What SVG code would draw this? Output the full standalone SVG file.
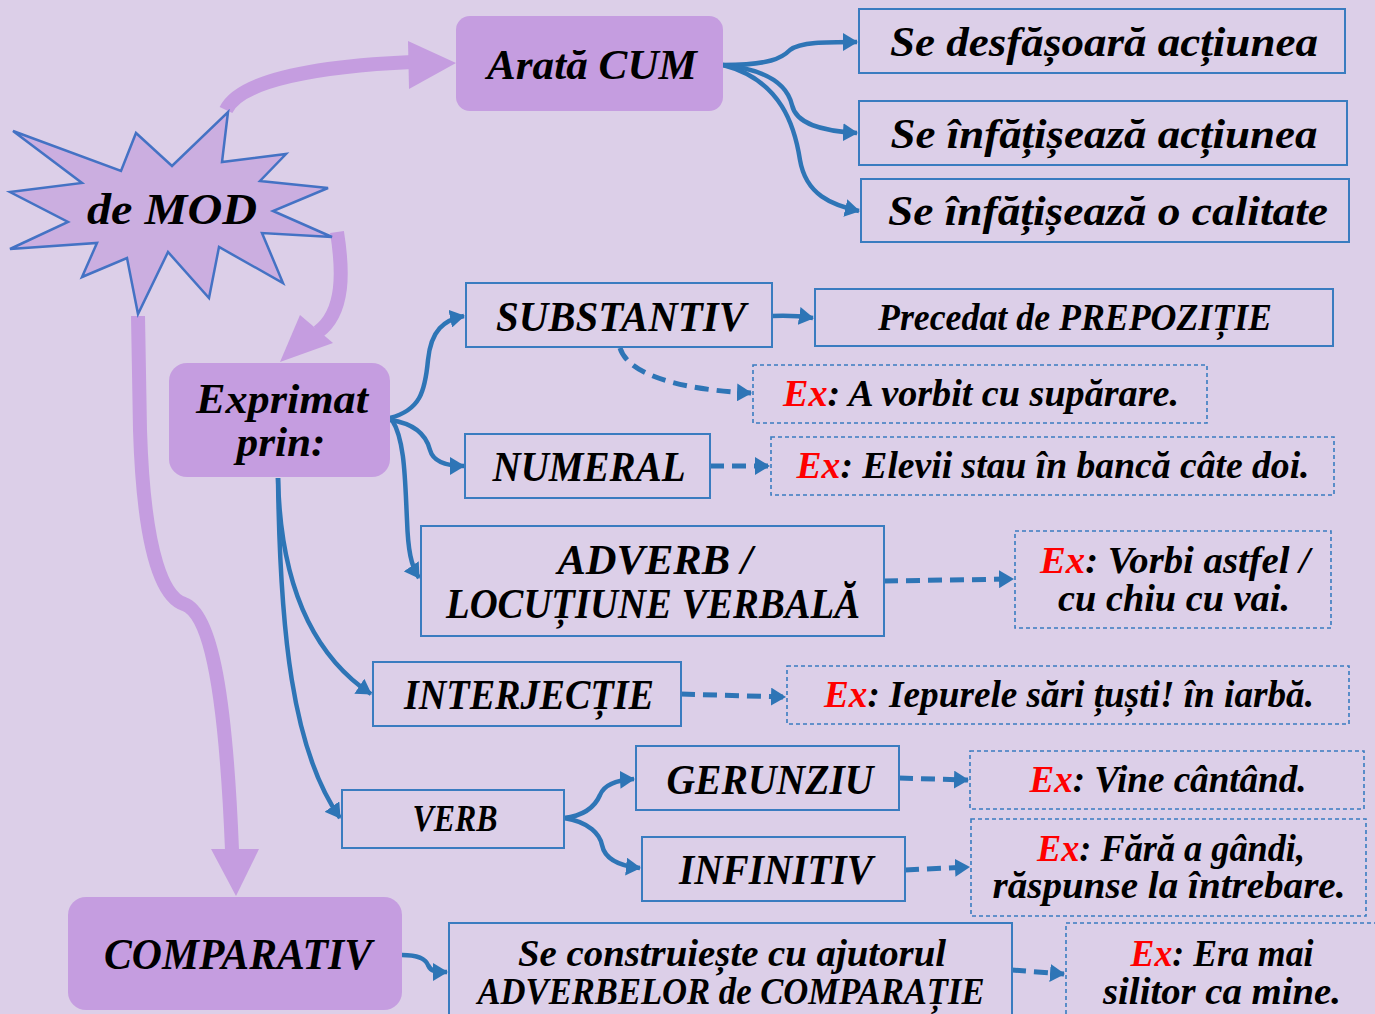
<svg xmlns="http://www.w3.org/2000/svg" width="1375" height="1014" viewBox="0 0 1375 1014">
<defs>
<style>
text{font-family:"Liberation Serif","Times New Roman",serif;font-style:italic;font-weight:bold;fill:#000;text-anchor:middle}
.box{fill:none;stroke:#3A7CC0;stroke-width:2}
.dbox{fill:none;stroke:#3A7CC0;stroke-width:1.6;stroke-dasharray:4 3}
.pbox{fill:#C59DE0}
.pc{fill:none;stroke:#C59DE0;stroke-width:14}
.bc{fill:none;stroke:#2E75B6;stroke-width:4.5}
.dc{fill:none;stroke:#2E75B6;stroke-width:5;stroke-dasharray:14 8}
.ex{fill:#FF0000}
</style>
<marker id="ah" markerUnits="userSpaceOnUse" markerWidth="16" markerHeight="18" refX="14" refY="9" orient="auto">
<path d="M0,0 L15,9 L0,18 Z" fill="#2E75B6"/>
</marker>
</defs>
<rect width="1375" height="1014" fill="#DCCFE8"/>

<g id="connectors">
<!-- purple thick -->
<path class="pc" d="M226,110 C240,80 320,66 412,62"/>
<polygon fill="#C59DE0" points="408,41 456,63 409,89"/>
<path class="pc" d="M337,232 C343,270 345,312 318,332"/>
<polygon fill="#C59DE0" points="300,315 333,343 280,362"/>
<path class="pc" d="M138,316 L140,430 C144,560 165,598 184,604 C212,614 226,700 232,850"/>
<polygon fill="#C59DE0" points="211,849 259,849 236,896"/>
<!-- blue solid -->
<path class="bc" marker-end="url(#ah)" d="M723,65 C770,65 782,58 790,50 C800,42 825,42 857,42"/>
<path class="bc" marker-end="url(#ah)" d="M723,65 C772,70 788,88 792,105 C796,124 822,131 857,133"/>
<path class="bc" marker-end="url(#ah)" d="M723,65 C782,80 795,128 800,160 C806,195 832,205 859,211"/>
<path class="bc" marker-end="url(#ah)" d="M390,418 C420,410 425,392 428,360 C431,330 444,320 464,316"/>
<path class="bc" marker-end="url(#ah)" d="M390,420 C418,424 427,438 430,450 C433,461 446,466 464,466"/>
<path class="bc" marker-end="url(#ah)" d="M392,420 C405,440 405,480 407,520 C408,550 411,566 419,578"/>
<path class="bc" marker-end="url(#ah)" d="M278,478 C280,570 305,650 371,694"/>
<path class="bc" marker-end="url(#ah)" d="M278,478 C280,630 292,750 340,818"/>
<path class="bc" marker-end="url(#ah)" d="M772,316 C790,315 800,316 813,318"/>
<path class="bc" marker-end="url(#ah)" d="M564,818 C590,815 597,802 600,795 C604,785 616,780 634,779"/>
<path class="bc" marker-end="url(#ah)" d="M564,818 C590,822 600,835 602,845 C605,860 620,866 640,868"/>
<path class="bc" marker-end="url(#ah)" d="M402,955 C420,955 426,960 428,965 C431,972 436,972 447,972"/>
<!-- blue dashed -->
<path class="dc" marker-end="url(#ah)" d="M620,348 C630,380 700,391 751,393"/>
<path class="dc" marker-end="url(#ah)" d="M710,466 L769,466"/>
<path class="dc" marker-end="url(#ah)" d="M884,581 L1013,579"/>
<path class="dc" marker-end="url(#ah)" d="M681,694 L785,697"/>
<path class="dc" marker-end="url(#ah)" d="M899,778 L968,780"/>
<path class="dc" marker-end="url(#ah)" d="M905,870 L969,867"/>
<path class="dc" marker-end="url(#ah)" d="M1012,970 L1064,974"/>
</g>

<g id="de-mod">
<polygon fill="#CBAEE0" stroke="#4472C4" stroke-width="2.5" stroke-linejoin="miter" points="13,131 121,171 136,133 172,166 228,112 222,162 286,154 260,181 328,188 273,211 332,237 262,233 283,283 219,247 209,298 168,252 138,314 127,258 82,277 97,243 10,249 68,222 10,192 82,183"/>
<text x="172" y="224" font-size="45" textLength="170" lengthAdjust="spacingAndGlyphs">de MOD</text>
</g>

<g id="arata-cum">
<rect class="pbox" x="456" y="16" width="267" height="95" rx="14"/>
<text x="592" y="79" font-size="43" textLength="210" lengthAdjust="spacingAndGlyphs">Arată CUM</text>
</g>
<g id="b-desfasoara">
<rect class="box" x="859" y="9" width="486" height="64"/>
<text x="1104" y="56" font-size="42" textLength="428" lengthAdjust="spacingAndGlyphs">Se desfășoară acțiunea</text>
</g>
<g id="b-infatiseaza-actiunea">
<rect class="box" x="859" y="101" width="488" height="64"/>
<text x="1104" y="148" font-size="42" textLength="427" lengthAdjust="spacingAndGlyphs">Se înfățișează acțiunea</text>
</g>
<g id="b-infatiseaza-calitate">
<rect class="box" x="861" y="179" width="488" height="63"/>
<text x="1108" y="225" font-size="42" textLength="440" lengthAdjust="spacingAndGlyphs">Se înfățișează o calitate</text>
</g>

<g id="exprimat">
<rect class="pbox" x="169" y="363" width="221" height="114" rx="18"/>
<text x="282" y="413" font-size="42" textLength="172" lengthAdjust="spacingAndGlyphs">Exprimat</text>
<text x="281" y="456" font-size="42" textLength="89" lengthAdjust="spacingAndGlyphs">prin:</text>
</g>

<g id="substantiv">
<rect class="box" x="466" y="283" width="306" height="64"/>
<text x="621" y="331" font-size="42" textLength="250" lengthAdjust="spacingAndGlyphs">SUBSTANTIV</text>
</g>
<g id="precedat">
<rect class="box" x="815" y="289" width="518" height="57"/>
<text x="1075" y="330" font-size="37" textLength="394" lengthAdjust="spacingAndGlyphs">Precedat de PREPOZIȚIE</text>
</g>
<g id="ex-substantiv">
<rect class="dbox" x="753" y="365" width="454" height="58"/>
<text x="981" y="406" font-size="37" textLength="396" lengthAdjust="spacingAndGlyphs"><tspan class="ex">Ex</tspan>: A vorbit cu supărare.</text>
</g>

<g id="numeral">
<rect class="box" x="465" y="434" width="245" height="64"/>
<text x="589" y="481" font-size="42" textLength="193" lengthAdjust="spacingAndGlyphs">NUMERAL</text>
</g>
<g id="ex-numeral">
<rect class="dbox" x="771" y="437" width="563" height="58"/>
<text x="1053" y="478" font-size="37" textLength="513" lengthAdjust="spacingAndGlyphs"><tspan class="ex">Ex</tspan>: Elevii stau în bancă câte doi.</text>
</g>

<g id="adverb">
<rect class="box" x="421" y="526" width="463" height="110"/>
<text x="655" y="574" font-size="42" textLength="195" lengthAdjust="spacingAndGlyphs">ADVERB /</text>
<text x="653" y="618" font-size="42" textLength="414" lengthAdjust="spacingAndGlyphs">LOCUȚIUNE VERBALĂ</text>
</g>
<g id="ex-adverb">
<rect class="dbox" x="1015" y="531" width="316" height="97"/>
<text x="1175" y="573" font-size="37" textLength="270" lengthAdjust="spacingAndGlyphs"><tspan class="ex">Ex</tspan>: Vorbi astfel /</text>
<text x="1174" y="611" font-size="37" textLength="232" lengthAdjust="spacingAndGlyphs">cu chiu cu vai.</text>
</g>

<g id="interjectie">
<rect class="box" x="373" y="662" width="308" height="64"/>
<text x="529" y="709" font-size="42" textLength="250" lengthAdjust="spacingAndGlyphs">INTERJECȚIE</text>
</g>
<g id="ex-interjectie">
<rect class="dbox" x="787" y="666" width="562" height="58"/>
<text x="1069" y="707" font-size="37" textLength="490" lengthAdjust="spacingAndGlyphs"><tspan class="ex">Ex</tspan>: Iepurele sări țuști! în iarbă.</text>
</g>

<g id="verb">
<rect class="box" x="342" y="790" width="222" height="58"/>
<text x="455" y="831" font-size="37" textLength="85" lengthAdjust="spacingAndGlyphs">VERB</text>
</g>
<g id="gerunziu">
<rect class="box" x="636" y="746" width="263" height="64"/>
<text x="770" y="794" font-size="42" textLength="207" lengthAdjust="spacingAndGlyphs">GERUNZIU</text>
</g>
<g id="ex-gerunziu">
<rect class="dbox" x="970" y="751" width="394" height="58"/>
<text x="1168" y="792" font-size="37" textLength="277" lengthAdjust="spacingAndGlyphs"><tspan class="ex">Ex</tspan>: Vine cântând.</text>
</g>
<g id="infinitiv">
<rect class="box" x="642" y="837" width="263" height="64"/>
<text x="776" y="884" font-size="42" textLength="194" lengthAdjust="spacingAndGlyphs">INFINITIV</text>
</g>
<g id="ex-infinitiv">
<rect class="dbox" x="971" y="819" width="395" height="97"/>
<text x="1171" y="861" font-size="37" textLength="268" lengthAdjust="spacingAndGlyphs"><tspan class="ex">Ex</tspan>: Fără a gândi,</text>
<text x="1169" y="898" font-size="37" textLength="353" lengthAdjust="spacingAndGlyphs">răspunse la întrebare.</text>
</g>

<g id="comparativ">
<rect class="pbox" x="68" y="897" width="334" height="113" rx="18"/>
<text x="238" y="969" font-size="44" textLength="268" lengthAdjust="spacingAndGlyphs">COMPARATIV</text>
</g>
<g id="se-construieste">
<rect class="box" x="449" y="923" width="563" height="100"/>
<text x="732" y="966" font-size="38" textLength="428" lengthAdjust="spacingAndGlyphs">Se construiește cu ajutorul</text>
<text x="731" y="1004" font-size="38" textLength="507" lengthAdjust="spacingAndGlyphs">ADVERBELOR de COMPARAȚIE</text>
</g>
<g id="ex-comparativ">
<rect class="dbox" x="1066" y="923" width="320" height="100"/>
<text x="1222" y="966" font-size="38" textLength="183" lengthAdjust="spacingAndGlyphs"><tspan class="ex">Ex</tspan>: Era mai</text>
<text x="1222" y="1004" font-size="38" textLength="238" lengthAdjust="spacingAndGlyphs">silitor ca mine.</text>
</g>
</svg>
